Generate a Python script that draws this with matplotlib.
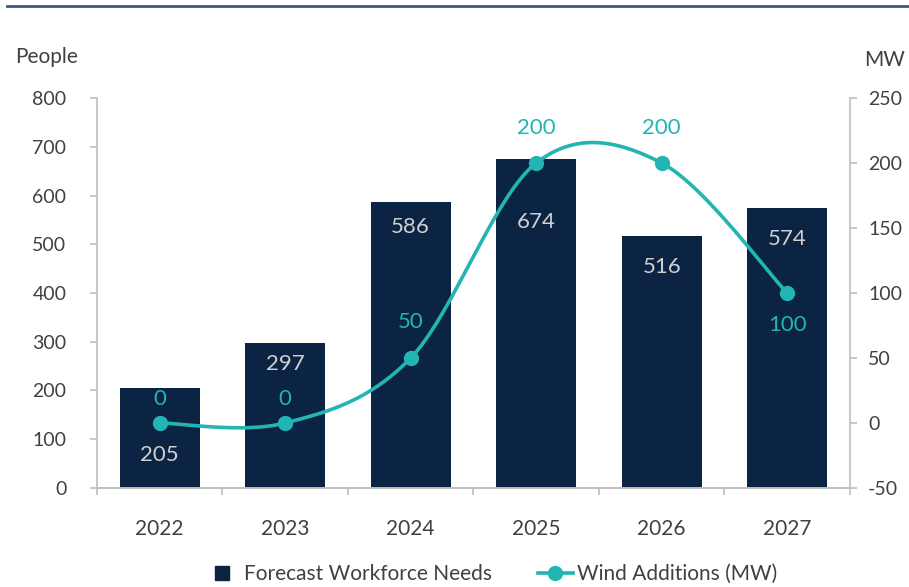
import numpy as np
import matplotlib
matplotlib.use("Agg")
import matplotlib.pyplot as plt
from matplotlib.lines import Line2D

# chart data
years = ["2022", "2023", "2024", "2025", "2026", "2027"]
workforce = [205, 297, 586, 674, 516, 574]
wind_mw = [0, 0, 50, 200, 200, 100]

# label offsets (points) -- placed by hand like the original
bar_label_dy = [-48, -15, -18, -45, -22, -22]
line_label_dy = [17, 17, 26, 25, 25, -23]

NAVY = "#0c2444"
TEAL = "#22b5b3"
GREY_TXT = "#404040"
SPINE = "#bfbfbf"

plt.rcParams["font.family"] = ["Lato", "DejaVu Sans"]
plt.rcParams["axes.unicode_minus"] = False


def excel_smooth(x, y, n=40):
    # bezier smoothing the way spreadsheet charts do it
    px = [x[0]] + list(x) + [x[-1]]
    py = [y[0]] + list(y) + [y[-1]]
    xs, ys = [], []
    t = np.linspace(0, 1, n)
    for i in range(1, len(px) - 2):
        p0 = np.array([px[i - 1], py[i - 1]], float)
        p1 = np.array([px[i], py[i]], float)
        p2 = np.array([px[i + 1], py[i + 1]], float)
        p3 = np.array([px[i + 2], py[i + 2]], float)
        c1 = p1 + (p2 - p0) / 6
        c2 = p2 - (p3 - p1) / 6
        for k in t:
            pt = ((1 - k) ** 3) * p1 + 3 * ((1 - k) ** 2) * k * c1 + 3 * (1 - k) * k * k * c2 + k ** 3 * p2
            xs.append(pt[0])
            ys.append(pt[1])
    return xs, ys


fig = plt.figure(figsize=(9.09, 5.87), dpi=100)
ax = fig.add_axes([0.1067, 0.1687, 0.8283, 0.6643])
ax2 = ax.twinx()

x = np.arange(len(years))
ax.bar(x, workforce, width=0.64, color=NAVY, zorder=2)
for xi, v, dy in zip(x, workforce, bar_label_dy):
    ax.annotate(str(v), (xi, v), xytext=(0, dy), textcoords="offset points",
                ha="center", va="center", fontsize=16, color="#d0d0d0")

sx, sy = excel_smooth(x, wind_mw)
ax2.plot(sx, sy, color=TEAL, lw=2.6, solid_capstyle="round", zorder=3)
ax2.plot(x, wind_mw, "o", color=TEAL, ms=10, zorder=4)
for xi, v, dy in zip(x, wind_mw, line_label_dy):
    ax2.annotate(str(v), (xi, v), xytext=(0, dy), textcoords="offset points",
                 ha="center", va="center", fontsize=16, color=TEAL)

ax.set_xlim(-0.5, len(years) - 0.5)
ax.set_ylim(0, 800)
ax.set_yticks(range(0, 801, 100))
ax2.set_ylim(-50, 250)
ax2.set_yticks(range(-50, 251, 50))

ax.set_xticks(x)
ax.set_xticklabels(years)
ax.set_xticks(np.arange(-0.5, len(years)), minor=True)
ax.tick_params(axis="x", which="major", length=0, pad=22, labelsize=15, labelcolor=GREY_TXT)
ax.tick_params(axis="x", which="minor", length=5, width=1.2, color=SPINE)
ax.tick_params(axis="y", length=5, width=1.2, color=SPINE, pad=17, labelsize=14, labelcolor=GREY_TXT)
ax2.tick_params(axis="y", length=5, width=1.2, color=SPINE, pad=8, labelsize=14, labelcolor=GREY_TXT)

for a in (ax, ax2):
    a.spines["top"].set_visible(False)
    for s in ("left", "right", "bottom"):
        a.spines[s].set_color(SPINE)
        a.spines[s].set_linewidth(1.2)
ax.spines["right"].set_visible(False)
ax2.spines["left"].set_visible(False)

fig.text(15 / 909, 1 - 57 / 587, "People", fontsize=15, color=GREY_TXT, va="center", ha="left")
fig.text(905 / 909, 1 - 60 / 587, "MW", fontsize=15, color=GREY_TXT, va="center", ha="right")

# rule across the top
fig.add_artist(Line2D([7 / 909, 1], [1 - 6 / 587, 1 - 6 / 587], color="#3a5a87", lw=2))

handles = [Line2D([], [], ls="none", marker="s", ms=10, color=NAVY, label="Forecast Workforce Needs"),
           Line2D([], [], color=TEAL, lw=2.6, marker="o", ms=10, label="Wind Additions (MW)")]
fig.legend(handles=handles, loc="center", bbox_to_anchor=(0.54, 1 - 574 / 587), ncol=2,
           frameon=False, fontsize=15, labelcolor=GREY_TXT, handlelength=1.7,
           columnspacing=2.2, handletextpad=0.2)

fig.savefig("out.png", dpi=100)
